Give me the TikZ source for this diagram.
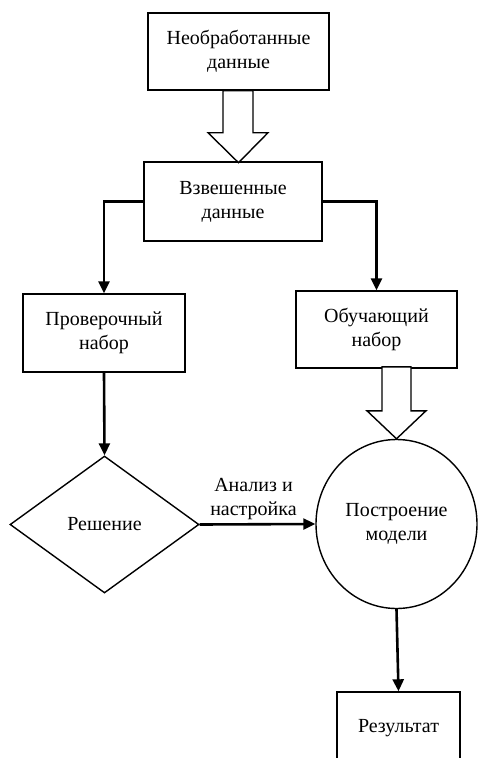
\documentclass[tikz,border=0pt]{standalone}
\usepackage{fontspec}
\setmainfont{Liberation Serif}
\usetikzlibrary{shapes.geometric,arrows.meta}
\begin{document}
\begin{tikzpicture}[x=1pt,y=-1pt,
  txt/.style={font=\fontsize{20}{24}\selectfont,align=center},
  box/.style={txt,draw,line width=1.4pt,rectangle,inner sep=0pt},
  conn/.style={line width=2.6pt,-{Triangle[length=12pt,width=11pt]}},
  hollow/.style={draw,line width=1.4pt,fill=white,line join=miter}
]
\useasboundingbox (0,0) rectangle (479,758);
\fill[white] (0,0) rectangle (479,758);
\node[box,minimum width=181pt,minimum height=77pt] (raw) at (238.5,51.5) {Необработанные\\данные};
\node[box,minimum width=178pt,minimum height=79pt] (wt) at (233,201.5) {Взвешенные\\данные};
\node[box,minimum width=162pt,minimum height=78pt] (val) at (104,333) {Проверочный\\набор};
\node[box,minimum width=161pt,minimum height=77pt] (learn) at (376.5,329.5) {Обучающий\\набор};
\node[txt,draw,line width=1.4pt,diamond,inner sep=0pt,minimum width=189pt,minimum height=137pt] (dec) at (104.5,524.5) {Решение};
\node[txt,draw,line width=1.4pt,ellipse,inner sep=0pt,minimum width=161pt,minimum height=169pt] (model) at (396.5,524) {Построение\\модели};
\node[box,minimum width=123pt,minimum height=72pt] (res) at (398.5,728) {Результат};

\draw[hollow] (raw.south) ++(-15.5,0) -- ++(0,42) -- ++(-15,0) -- ++(30.5,30) -- ++(29.5,-30) -- ++(-15,0) -- ++(0,-42) -- cycle;
\draw[hollow] (model.north) -- ++(-29.5,-28) -- ++(15,0) -- ++(0,-44) -- ++(29,0) -- ++(0,44) -- ++(15,0) -- cycle;

\draw[conn] (wt.west) -| (val.north);
\draw[conn] (wt.east) -| (learn.north);
\draw[conn] (val.south) -- (dec.north);
\draw[conn] (dec.east) -- node[txt,anchor=south,inner sep=3pt,xshift=-4pt] (lab) {Анализ и\\настройка} (model.west);
\draw[conn] (model.south) -- (res.north);
\end{tikzpicture}
\end{document}
